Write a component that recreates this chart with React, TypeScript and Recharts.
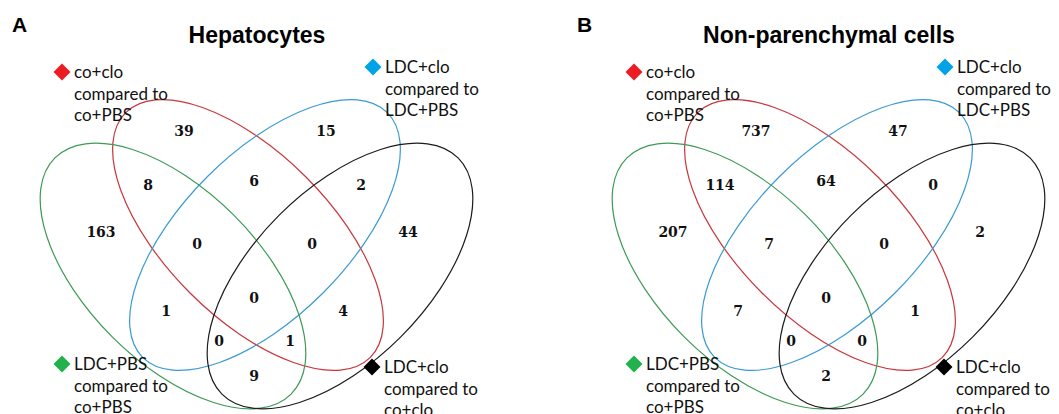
import React from "react";
import { ScatterChart, Scatter, XAxis, YAxis } from "recharts";

// Four-set Venn diagrams (hepatocytes vs non-parenchymal cells)

const HEIGHT = 414;

// set order: red, blue, green, black
const setLabels = [
  ["co+clo", "compared to", "co+PBS"],
  ["LDC+clo", "compared to", "LDC+PBS"],
  ["LDC+PBS", "compared to", "co+PBS"],
  ["LDC+clo", "compared to", "co+clo"],
];
const markerColors = ["#ED1C24", "#00A2E8", "#22B14C", "#000000"];
const ellipseColors = ["#C8363C", "#3A9BD2", "#3E9A56", "#1C1C1C"];

// ellipse geometry, in panel units
const ellipseX = [248, 265, 173, 340];
const ellipseY = [235, 235, 276, 276];
const ellipseA = [173, 173, 167, 167];
const ellipseB = [82, 82, 86, 86];
const ellipseAngle = [45, -45, 45, -45];

// legend marker positions
const legendX = [62, 373, 62, 372];
const legendY = [72, 67, 364, 367];

// region label positions
const regionX = [184, 326, 148, 254, 361, 101, 197, 312, 408, 254, 166, 343, 219, 290, 254];
const regionY = [131, 131, 185, 181, 185, 232, 244, 244, 232, 298, 311, 311, 341, 341, 376];

const hepatocyteCounts = [39, 15, 8, 6, 2, 163, 0, 0, 44, 0, 1, 4, 0, 1, 9];
const npcCounts = [737, 47, 114, 64, 0, 207, 7, 0, 2, 0, 7, 1, 0, 0, 2];

const EllipseShape = (props: any) => {
  const { cx, cy, payload } = props;
  return (
    <ellipse
      cx={cx}
      cy={cy}
      rx={payload.a}
      ry={payload.b}
      transform={`rotate(${payload.angle} ${cx} ${cy})`}
      fill="none"
      stroke={payload.color}
      strokeWidth={1.2}
    />
  );
};

const CountShape = (props: any) => {
  const { cx, cy, payload } = props;
  return (
    <text
      x={cx}
      y={cy + 5}
      textAnchor="middle"
      fontFamily="DejaVu Serif"
      fontWeight="bold"
      fontSize={14}
      fill="#111"
    >
      {payload.value}
    </text>
  );
};

const LegendShape = (props: any) => {
  const { cx, cy, payload } = props;
  const d = 8.5;
  return (
    <g>
      <polygon
        points={`${cx},${cy - d} ${cx + d},${cy} ${cx},${cy + d} ${cx - d},${cy}`}
        fill={payload.color}
      />
      <text x={cx + 12} y={cy + 6} fontFamily="Lato" fontSize={17} fill="#111">
        {payload.lines.map((line: string, i: number) => (
          <tspan key={i} x={cx + 12} dy={i === 0 ? 0 : 21.5}>
            {line}
          </tspan>
        ))}
      </text>
    </g>
  );
};

function VennPanel({
  width,
  left,
  title,
  letter,
  letterX,
  counts,
}: {
  width: number;
  left: number;
  title: string;
  letter: string;
  letterX: number;
  counts: number[];
}) {
  const ellipses = ellipseX.map((x, i) => ({
    x,
    y: ellipseY[i],
    a: ellipseA[i],
    b: ellipseB[i],
    angle: ellipseAngle[i],
    color: ellipseColors[i],
  }));
  const regions = counts.map((value, i) => ({ x: regionX[i], y: regionY[i], value }));
  const legend = setLabels.map((lines, i) => ({
    x: legendX[i],
    y: legendY[i],
    lines,
    color: markerColors[i],
  }));

  return (
    <div style={{ position: "absolute", left, top: 0, width, height: HEIGHT }}>
      <ScatterChart width={width} height={HEIGHT} margin={{ top: 0, right: 0, bottom: 0, left: 0 }}>
        <XAxis type="number" dataKey="x" domain={[0, width]} allowDataOverflow hide />
        <YAxis type="number" dataKey="y" domain={[0, HEIGHT]} allowDataOverflow reversed hide />
        <Scatter data={ellipses} shape={EllipseShape} isAnimationActive={false} />
        <Scatter data={regions} shape={CountShape} isAnimationActive={false} />
        <Scatter data={legend} shape={LegendShape} isAnimationActive={false} />
      </ScatterChart>
      <div
        style={{
          position: "absolute",
          left: letterX,
          top: 14,
          fontFamily: "Liberation Sans",
          fontWeight: "bold",
          fontSize: 21,
          lineHeight: "21px",
        }}
      >
        {letter}
      </div>
      <div
        style={{
          position: "absolute",
          left: 0,
          top: 24,
          width: 514,
          textAlign: "center",
          fontFamily: "Liberation Sans",
          fontWeight: "bold",
          fontSize: 23,
          lineHeight: "23px",
          whiteSpace: "nowrap",
        }}
      >
        {title}
      </div>
    </div>
  );
}

export default function App() {
  return (
    <div
      style={{
        position: "absolute",
        left: 0,
        top: 0,
        width: 1059,
        height: HEIGHT,
        background: "#fff",
        overflow: "hidden",
      }}
    >
      <VennPanel width={530} left={0} title="Hepatocytes" letter="A" letterX={12} counts={hepatocyteCounts} />
      <VennPanel
        width={487}
        left={572}
        title="Non-parenchymal cells"
        letter="B"
        letterX={5}
        counts={npcCounts}
      />
    </div>
  );
}
